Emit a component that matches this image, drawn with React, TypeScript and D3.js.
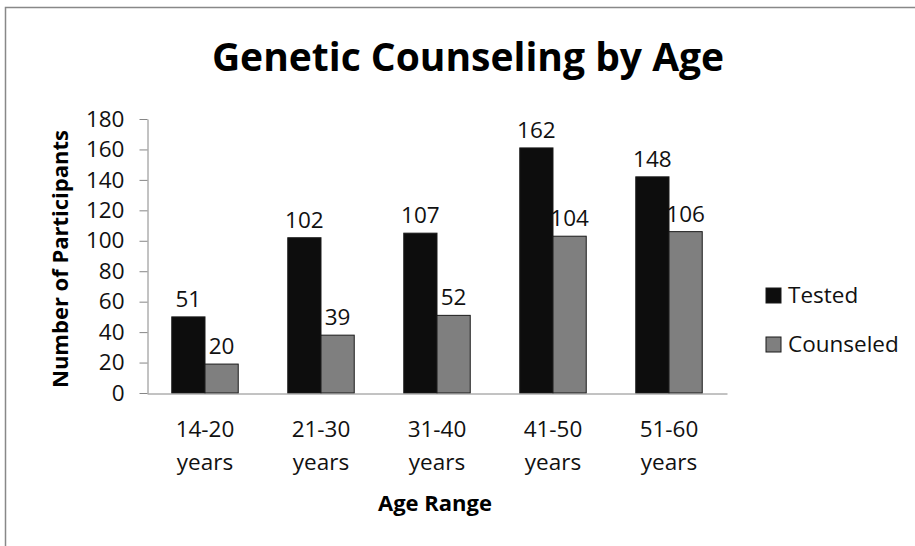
import React, { useEffect, useRef } from "react";
import * as d3 from "d3";

// data
const ageRanges = ["14-20 years", "21-30 years", "31-40 years", "41-50 years", "51-60 years"];
const seriesNames = ["Tested", "Counseled"];
// bar heights as drawn (the 51-60 "Tested" bar is drawn lower than its label says)
const testedBars = [50, 102, 105, 161, 142];
const counseledBars = [19, 38, 51, 103, 106];
// labels printed above the bars
const testedLabels = ["51", "102", "107", "162", "148"];
const counseledLabels = ["20", "39", "52", "104", "106"];
const yTicks = [0, 20, 40, 60, 80, 100, 120, 140, 160, 180];

const FONT = "'Open Sans', 'Noto Sans', sans-serif";
const colors = ["#0d0d0d", "#7f7f7f"];

export default function App() {
  const svgRef = useRef<SVGSVGElement>(null);

  useEffect(() => {
    if (!svgRef.current) return;
    const svg = d3.select(svgRef.current);
    svg.selectAll("*").remove();

    const width = 915;
    const height = 546;
    const margin = { top: 119, right: 192, bottom: 153, left: 147 };

    // outer chart border
    svg.append("rect")
      .attr("x", 5.5)
      .attr("y", 7.5)
      .attr("width", 1000)
      .attr("height", 1000)
      .attr("fill", "white")
      .attr("stroke", "#888")
      .attr("stroke-width", 1.5);

    const x0 = d3.scaleBand()
      .domain(ageRanges)
      .range([margin.left, width - margin.right + 4])
      .paddingInner(0.427)
      .paddingOuter(0.2135);

    const x1 = d3.scaleBand().domain(seriesNames).range([0, x0.bandwidth()]);

    const y = d3.scaleLinear().domain([0, 180]).range([height - margin.bottom, margin.top]);

    // y axis
    const yAxis = svg.append("g")
      .attr("transform", `translate(${margin.left + 0.5},0)`)
      .call(d3.axisLeft(y).tickValues(yTicks).tickSize(8).tickSizeOuter(0).tickPadding(15));
    yAxis.select(".domain").attr("stroke", "#868686");
    yAxis.selectAll(".tick line").attr("stroke", "#868686");
    yAxis.selectAll(".tick text")
      .attr("fill", "#111")
      .style("font-family", FONT)
      .style("font-size", "22.5px");

    // bars
    const rows = ageRanges.map((cat, i) => ({
      cat,
      values: [
        { key: "Tested", v: testedBars[i], label: testedLabels[i] },
        { key: "Counseled", v: counseledBars[i], label: counseledLabels[i] },
      ],
    }));

    const groups = svg.selectAll("g.grp")
      .data(rows)
      .enter()
      .append("g")
      .attr("class", "grp")
      .attr("transform", (d) => `translate(${x0(d.cat)},0)`);

    groups.selectAll("rect")
      .data((d) => d.values)
      .enter()
      .append("rect")
      .attr("x", (d) => x1(d.key)!)
      .attr("y", (d) => y(d.v))
      .attr("width", x1.bandwidth())
      .attr("height", (d) => y(0) - y(d.v))
      .attr("fill", (d, i) => colors[i])
      .attr("stroke", "#1a1a1a")
      .attr("stroke-width", 1);

    groups.selectAll("text.lbl")
      .data((d) => d.values)
      .enter()
      .append("text")
      .attr("class", "lbl")
      .attr("x", (d) => x1(d.key)! + x1.bandwidth() / 2)
      .attr("y", (d) => y(d.v) - 10)
      .attr("text-anchor", "middle")
      .attr("fill", "#111")
      .style("font-family", FONT)
      .style("font-size", "22.5px")
      .text((d) => d.label);

    // x axis
    const xAxis = svg.append("g")
      .attr("transform", `translate(0,${y(0) + 0.5})`)
      .call(d3.axisBottom(x0).tickSize(0).tickSizeOuter(0).tickFormat(() => ""));
    xAxis.select(".domain").attr("stroke", "#868686");

    svg.selectAll("text.cat")
      .data(ageRanges)
      .enter()
      .append("text")
      .attr("class", "cat")
      .attr("text-anchor", "middle")
      .attr("fill", "#111")
      .style("font-family", FONT)
      .style("font-size", "22.5px")
      .each(function (d) {
        const cx = x0(d)! + x0.bandwidth() / 2;
        const parts = d.split(" ");
        d3.select(this).append("tspan").attr("x", cx).attr("y", 437).text(parts[0]);
        d3.select(this).append("tspan").attr("x", cx).attr("y", 470).text(parts[1]);
      });

    // titles
    svg.append("text")
      .attr("x", 468)
      .attr("y", 71)
      .attr("text-anchor", "middle")
      .attr("fill", "#000")
      .style("font-family", FONT)
      .style("font-weight", "bold")
      .style("font-size", "39px")
      .text("Genetic Counseling by Age");

    svg.append("text")
      .attr("x", (margin.left + width - margin.right) / 2)
      .attr("y", 511)
      .attr("text-anchor", "middle")
      .attr("fill", "#000")
      .style("font-family", FONT)
      .style("font-weight", "bold")
      .style("font-size", "22px")
      .text("Age Range");

    svg.append("text")
      .attr("transform", `translate(68,259) rotate(-90)`)
      .attr("text-anchor", "middle")
      .attr("fill", "#000")
      .style("font-family", FONT)
      .style("font-weight", "bold")
      .style("font-size", "22px")
      .text("Number of Participants");

    // legend
    const legend = svg.selectAll("g.leg")
      .data(seriesNames)
      .enter()
      .append("g")
      .attr("class", "leg")
      .attr("transform", (d, i) => `translate(766,${288 + i * 49})`);
    legend.append("rect")
      .attr("width", 15)
      .attr("height", 15)
      .attr("fill", (d, i) => colors[i])
      .attr("stroke", "#1a1a1a");
    legend.append("text")
      .attr("x", 22)
      .attr("y", 15)
      .attr("fill", "#111")
      .style("font-family", FONT)
      .style("font-size", "22.5px")
      .text((d) => d);
  }, []);

  return (
    <svg
      ref={svgRef}
      width={915}
      height={546}
      style={{ position: "absolute", left: 0, top: 0, background: "white" }}
    />
  );
}
